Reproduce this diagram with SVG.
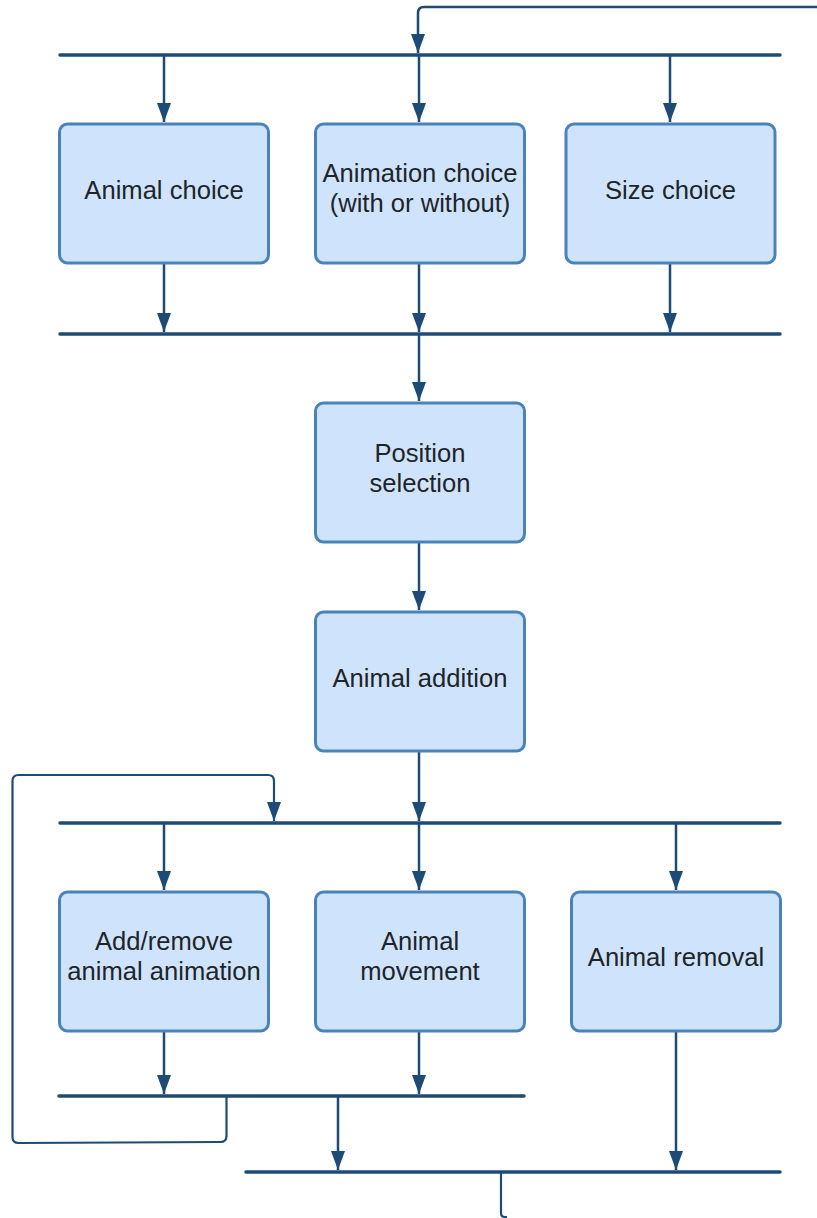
<svg xmlns="http://www.w3.org/2000/svg" width="817" height="1218" viewBox="0 0 817 1218">
  <defs>
    <style>
      .box { fill: #cfe4fc; stroke: #4a83b9; stroke-width: 3; }
      .label { font-family: "Liberation Sans", Arial, sans-serif; font-size: 25.6px; fill: #1e242b; text-anchor: middle; }
      .bar { stroke: #1e4a76; stroke-width: 3.5; stroke-linecap: round; fill: none; }
      .flow { stroke: #1e4a76; stroke-width: 2.5; fill: none; }
      .loop { stroke: #1e4a76; stroke-width: 2.2; fill: none; }
    </style>
    <!-- filled triangular arrowhead, drawn along +x so orient="auto" turns it with the line -->
    <marker id="head" markerUnits="userSpaceOnUse" markerWidth="19" markerHeight="14" viewBox="0 0 19 14" refX="19" refY="7" orient="auto">
      <path d="M0,0 L19,7 L0,14 Z" fill="#1e4a76"/>
    </marker>
  </defs>

  <!-- connectors -->
  <g id="connectors">
    <!-- sync bars -->
    <line class="bar" x1="60" y1="55" x2="780" y2="55"/>
    <line class="bar" x1="60" y1="334" x2="780" y2="334"/>
    <line class="bar" x1="60" y1="823" x2="780" y2="823"/>
    <line class="bar" x1="59" y1="1096" x2="524" y2="1096"/>
    <line class="bar" x1="246" y1="1172" x2="780" y2="1172"/>

    <!-- re-entry at the top -->
    <path class="flow" d="M817,7 H424 Q418,7 418,13 V53" marker-end="url(#head)"/>

    <!-- bar 1 to choice boxes -->
    <path class="flow" d="M164,55 V122" marker-end="url(#head)"/>
    <path class="flow" d="M419,55 V122" marker-end="url(#head)"/>
    <path class="flow" d="M670,55 V122" marker-end="url(#head)"/>

    <!-- choice boxes to bar 2 -->
    <path class="flow" d="M164,263 V332" marker-end="url(#head)"/>
    <path class="flow" d="M419,263 V332" marker-end="url(#head)"/>
    <path class="flow" d="M670,263 V332" marker-end="url(#head)"/>

    <!-- sequence -->
    <path class="flow" d="M419,334 V401" marker-end="url(#head)"/>
    <path class="flow" d="M419,542 V610" marker-end="url(#head)"/>
    <path class="flow" d="M419,751 V821" marker-end="url(#head)"/>

    <!-- bar 3 to edit boxes -->
    <path class="flow" d="M164,823 V890" marker-end="url(#head)"/>
    <path class="flow" d="M419,823 V890" marker-end="url(#head)"/>
    <path class="flow" d="M676,823 V890" marker-end="url(#head)"/>

    <!-- edit boxes to bar 4 -->
    <path class="flow" d="M164,1031 V1094" marker-end="url(#head)"/>
    <path class="flow" d="M419,1031 V1094" marker-end="url(#head)"/>

    <!-- loop back to bar 3 -->
    <path class="loop" d="M226.5,1096 V1136 Q226.5,1142 220.5,1142 L18.5,1143 Q12.5,1143 12.5,1137 V781 Q12.5,775 18.5,775 H268 Q274,775 274,781 V821" marker-end="url(#head)"/>

    <!-- bar 4 to bar 5 -->
    <path class="flow" d="M338,1096 V1170" marker-end="url(#head)"/>
    <!-- removal to bar 5 -->
    <path class="flow" d="M676,1031 V1170" marker-end="url(#head)"/>

    <!-- exit -->
    <path class="loop" d="M501,1172 V1213 Q501,1217 505,1217 H507"/>
  </g>

  <!-- nodes -->
  <g id="animal-choice">
    <rect class="box" x="59.5" y="124" width="209" height="139" rx="8"/>
    <text class="label" x="164" y="199">Animal choice</text>
  </g>
  <g id="animation-choice">
    <rect class="box" x="315.5" y="124" width="209" height="139" rx="8"/>
    <text class="label" x="420" y="182">Animation choice</text>
    <text class="label" x="420" y="212">(with or without)</text>
  </g>
  <g id="size-choice">
    <rect class="box" x="566" y="124" width="209" height="139" rx="8"/>
    <text class="label" x="670.5" y="199">Size choice</text>
  </g>
  <g id="position-selection">
    <rect class="box" x="315.5" y="403" width="209" height="139" rx="8"/>
    <text class="label" x="420" y="462">Position</text>
    <text class="label" x="420" y="492">selection</text>
  </g>
  <g id="animal-addition">
    <rect class="box" x="315.5" y="612" width="209" height="139" rx="8"/>
    <text class="label" x="420" y="687">Animal addition</text>
  </g>
  <g id="animation-toggle">
    <rect class="box" x="59.5" y="892" width="209" height="139" rx="8"/>
    <text class="label" x="164" y="950">Add/remove</text>
    <text class="label" x="164" y="980">animal animation</text>
  </g>
  <g id="animal-movement">
    <rect class="box" x="315.5" y="892" width="209" height="139" rx="8"/>
    <text class="label" x="420" y="950">Animal</text>
    <text class="label" x="420" y="980">movement</text>
  </g>
  <g id="animal-removal">
    <rect class="box" x="571.5" y="892" width="209" height="139" rx="8"/>
    <text class="label" x="676" y="966">Animal removal</text>
  </g>
</svg>
